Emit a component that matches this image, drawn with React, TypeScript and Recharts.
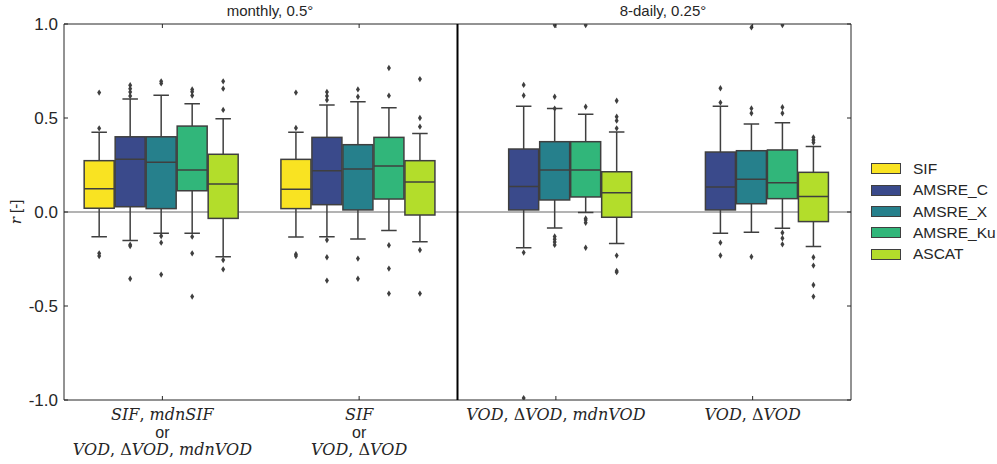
import React from 'react';
import { Bar, CartesianGrid, ComposedChart, ReferenceArea, ReferenceLine, XAxis, YAxis } from 'recharts';

const categories = ['g1', 'g2', 'g3', 'g4'];
const categoryLabels = [
  ['SIF, mdnSIF', 'or', 'VOD, ΔVOD, mdnVOD'],
  ['SIF', 'or', 'VOD, ΔVOD'],
  ['VOD, ΔVOD, mdnVOD'],
  ['VOD, ΔVOD'],
];
const panelTitles = ['monthly, 0.5°', '8-daily, 0.25°'];
const seriesNames = ['SIF', 'AMSRE_C', 'AMSRE_X', 'AMSRE_Ku', 'ASCAT'];
const seriesColors = ['#f9e322', '#3a4a8b', '#26808c', '#31b67a', '#b3dd2b'];
const yTicks = [-1, -0.5, 0, 0.5, 1];

// box stats per category: [lower whisker, q1, median, q3, upper whisker]
const sifBox = [[-0.131, 0.02, 0.124, 0.273, 0.424], [-0.133, 0.018, 0.121, 0.28, 0.424], null, null];
const amsreCBox = [
  [-0.152, 0.028, 0.28, 0.4, 0.601],
  [-0.131, 0.039, 0.22, 0.397, 0.569],
  [-0.19, 0.011, 0.135, 0.335, 0.562],
  [-0.113, 0.011, 0.133, 0.319, 0.562],
];
const amsreXBox = [
  [-0.113, 0.018, 0.264, 0.4, 0.621],
  [-0.144, 0.011, 0.229, 0.358, 0.587],
  [-0.085, 0.064, 0.223, 0.374, 0.55],
  [-0.108, 0.044, 0.174, 0.326, 0.468],
];
const amsreKuBox = [
  [-0.113, 0.113, 0.223, 0.457, 0.576],
  [-0.099, 0.069, 0.245, 0.397, 0.555],
  [-0.002, 0.08, 0.223, 0.374, 0.52],
  [-0.087, 0.071, 0.156, 0.33, 0.475],
];
const ascatBox = [
  [-0.238, -0.034, 0.149, 0.307, 0.496],
  [-0.158, -0.016, 0.16, 0.273, 0.418],
  [-0.167, -0.028, 0.103, 0.214, 0.426],
  [-0.184, -0.051, 0.082, 0.211, 0.348],
];

// outliers (fliers) per category
const sifOut = [[0.635, 0.445, -0.22, -0.234], [0.635, 0.447, -0.225, -0.234], [], []];
const amsreCOut = [
  [0.674, 0.656, 0.638, 0.617, -0.174, -0.181, -0.355],
  [0.638, 0.617, 0.596, -0.149, -0.241, -0.365],
  [0.676, 0.62, -0.216, -0.99],
  [0.658, 0.582, -0.163, -0.231],
];
const amsreXOut = [
  [0.695, 0.684, -0.128, -0.163, -0.333],
  [0.652, 0.613, -0.248, -0.355],
  [0.995, 0.613, 0.55, -0.13, -0.145, -0.16, -0.175],
  [0.982, 0.551, 0.525, -0.238],
];
const amsreKuOut = [
  [0.652, 0.64, 0.62, -0.131, -0.22, -0.45],
  [0.766, 0.619, -0.177, -0.301, -0.434],
  [0.995, 0.56, -0.034, -0.043, -0.057, -0.19],
  [0.995, 0.557, 0.525, -0.11, -0.14, -0.172],
];
const ascatOut = [
  [0.695, 0.656, 0.543, -0.255, -0.305],
  [0.707, 0.5, 0.454, -0.202, -0.434],
  [0.592, 0.507, 0.486, 0.445, -0.232, -0.314, -0.32],
  [0.397, 0.383, 0.37, -0.241, -0.285, -0.388, -0.45],
];

const boxes = [sifBox, amsreCBox, amsreXBox, amsreKuBox, ascatBox];
const fliers = [sifOut, amsreCOut, amsreXOut, amsreKuOut, ascatOut];

const W = 997;
const H = 464;
const PLOT_LEFT = 64;
const PLOT_RIGHT = 851;
const PLOT_TOP = 24;
const PLOT_BOTTOM = 400;
const EDGE = '#3f3f3f';
const SANS = '"Liberation Sans", Arial, sans-serif';
const SERIF = '"DejaVu Serif", serif';

const data = categories.map((cat, i) => {
  const row: any = { cat };
  seriesNames.forEach((name, s) => {
    const b = boxes[s][i];
    row[name] = b ? [b[0], b[4]] : null;
  });
  return row;
});

function BoxShape(props: any) {
  const { x, y, width, height, index, si } = props;
  const b = boxes[si][index];
  if (!b || height == null) return null;
  const top = Math.min(y, y + height);
  const bottom = Math.max(y, y + height);
  const lo = b[0];
  const hi = b[4];
  // linear map using the bar's own pixel extent (from the y scale)
  const py = (v: number) => top + ((hi - v) / (hi - lo)) * (bottom - top);
  const cx = x + width / 2;
  const bx = x + 0.5;
  const bw = width - 1;
  const cap = width / 4;
  return (
    <g>
      <line x1={cx} x2={cx} y1={py(b[3])} y2={py(hi)} stroke={EDGE} strokeWidth={1.5} />
      <line x1={cx} x2={cx} y1={py(b[1])} y2={py(lo)} stroke={EDGE} strokeWidth={1.5} />
      <line x1={cx - cap} x2={cx + cap} y1={py(hi)} y2={py(hi)} stroke={EDGE} strokeWidth={1.5} />
      <line x1={cx - cap} x2={cx + cap} y1={py(lo)} y2={py(lo)} stroke={EDGE} strokeWidth={1.5} />
      <rect
        x={bx}
        y={py(b[3])}
        width={bw}
        height={py(b[1]) - py(b[3])}
        fill={seriesColors[si]}
        stroke={EDGE}
        strokeWidth={1.5}
      />
      <line x1={bx} x2={bx + bw} y1={py(b[2])} y2={py(b[2])} stroke={EDGE} strokeWidth={1.5} />
      {fliers[si][index].map((v: number, k: number) => {
        const yy = py(v);
        return (
          <path
            key={k}
            d={`M${cx},${yy - 3.2} L${cx + 2},${yy} L${cx},${yy + 3.2} L${cx - 2},${yy} Z`}
            fill={EDGE}
          />
        );
      })}
    </g>
  );
}

function YTick(props: any) {
  const { x, y, payload } = props;
  return (
    <g>
      <text x={x} y={y} dy={6} textAnchor="end" fontSize={17} fontFamily={SANS} fill="#262626">
        {Number(payload.value).toFixed(1)}
      </text>
      <line x1={PLOT_LEFT} x2={PLOT_LEFT + 4} y1={y} y2={y} stroke="#262626" />
      <line x1={PLOT_RIGHT - 4} x2={PLOT_RIGHT} y1={y} y2={y} stroke="#262626" />
    </g>
  );
}

function mathLine(line: string) {
  return line.split(/(Δ|, )/).filter((p) => p !== '').map((part, k) => {
    const upright = part === 'Δ' || part === ', ';
    return (
      <tspan key={k} fontStyle={upright ? 'normal' : 'italic'}>
        {part}
      </tspan>
    );
  });
}

function XTick(props: any) {
  const { x, y, payload } = props;
  const lines = categoryLabels[payload.index] || [];
  return (
    <g>
      <line x1={x} x2={x} y1={PLOT_BOTTOM - 4} y2={PLOT_BOTTOM} stroke="#262626" />
      <line x1={x} x2={x} y1={PLOT_TOP} y2={PLOT_TOP + 4} stroke="#262626" />
      {lines.map((line, k) => (
        <text
          key={k}
          x={x}
          y={y + 18 + k * 17.5}
          textAnchor="middle"
          fontSize={16}
          fontFamily={line === 'or' ? SANS : SERIF}
          fill="#262626"
        >
          {line === 'or' ? line : mathLine(line)}
        </text>
      ))}
    </g>
  );
}

export default function App() {
  return (
    <div style={{ position: 'absolute', left: 0, top: 0, width: W, height: H, background: '#fff' }}>
      <ComposedChart
        width={W}
        height={H}
        data={data}
        margin={{ top: PLOT_TOP, right: W - PLOT_RIGHT, bottom: 0, left: 0 }}
        barCategoryGap="10%"
        barGap={0}
      >
        {/* zero line sits behind the boxes */}
        <CartesianGrid vertical={false} horizontalValues={[0]} stroke="#9a9a9a" strokeWidth={1.5} />
        <XAxis
          dataKey="cat"
          height={H - PLOT_BOTTOM}
          tick={<XTick />}
          tickLine={false}
          tickSize={0}
          axisLine={false}
          interval={0}
        />
        <YAxis
          domain={[-1, 1]}
          ticks={yTicks}
          width={PLOT_LEFT}
          tick={<YTick />}
          tickLine={false}
          tickSize={0}
          tickMargin={6}
          axisLine={false}
          allowDataOverflow
        />
        {seriesNames.map((name, si) => (
          <Bar
            key={name}
            dataKey={name}
            isAnimationActive={false}
            shape={(p: any) => <BoxShape {...p} si={si} />}
          />
        ))}
        <ReferenceLine x={categories[1]} position="end" stroke="#000" strokeWidth={2} />
        <ReferenceArea
          y1={-1}
          y2={1}
          fill="none"
          stroke="#262626"
          strokeWidth={1}
          ifOverflow="visible"
        />
      </ComposedChart>

      {panelTitles.map((t, i) => (
        <div
          key={t}
          style={{
            position: 'absolute',
            left: i === 0 ? 170 : 563,
            width: 200,
            top: 2,
            textAlign: 'center',
            fontFamily: SANS,
            fontSize: 15,
            color: '#262626',
          }}
        >
          {t}
        </div>
      ))}

      <div
        style={{
          position: 'absolute',
          left: 16 - 30,
          top: 212 - 10,
          width: 60,
          height: 20,
          transform: 'rotate(-90deg)',
          textAlign: 'center',
          fontSize: 15,
          color: '#262626',
          lineHeight: '20px',
        }}
      >
        <span style={{ fontFamily: SERIF, fontStyle: 'italic' }}>r</span>
        <span style={{ fontFamily: SANS }}> [-]</span>
      </div>

      {seriesNames.map((name, i) => (
        <div
          key={name}
          style={{
            position: 'absolute',
            left: 871,
            top: 168.7 + i * 21.4 - 10,
            height: 20,
            display: 'flex',
            alignItems: 'center',
            fontFamily: SANS,
            fontSize: 15.5,
            color: '#262626',
          }}
        >
          <div
            style={{
              width: 28,
              height: 9,
              background: seriesColors[i],
              border: `1px solid ${EDGE}`,
              marginRight: 12,
            }}
          />
          {name}
        </div>
      ))}
    </div>
  );
}
